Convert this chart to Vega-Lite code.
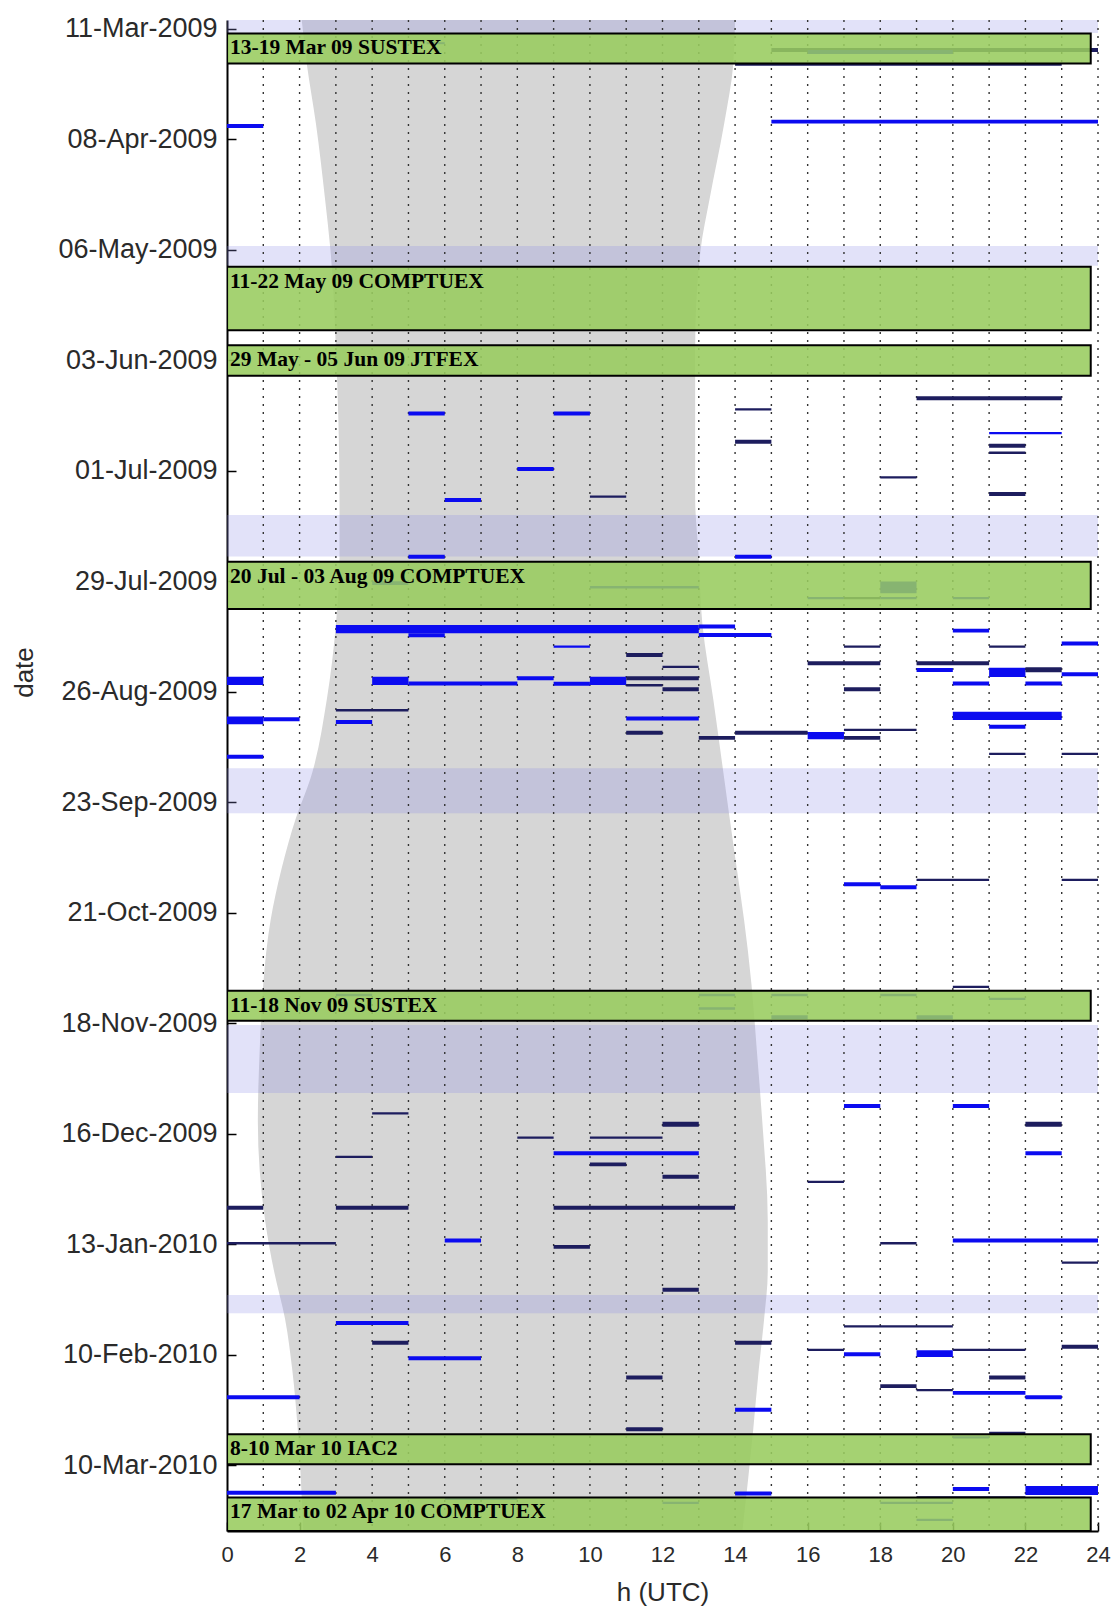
{
  "$schema": "https://vega.github.io/schema/vega-lite/v6.json",
  "width": 871,
  "height": 1511,
  "autosize": {"type": "none"},
  "padding": {"left": 227, "top": 20, "right": 15, "bottom": 77},
  "background": "white",
  "config": {
    "view": {"stroke": null},
    "axis": {
      "grid": false, "labelFlush": false, "labelOverlap": false,
      "domainColor": "#000", "domainWidth": 2,
      "tickColor": "#000", "tickWidth": 1.5, "tickSize": -9,
      "labelFont": "Liberation Sans", "labelColor": "#2a2a2a",
      "titleFont": "Liberation Sans", "titleFontSize": 26, "titleFontWeight": "normal", "titleColor": "#2a2a2a"
    },
    "axisY": {"labelFontSize": 27, "labelPadding": 19, "titleX": -195, "titleY": 652, "titleAngle": -90, "titleBaseline": "alphabetic", "titleAlign": "center"},
    "axisX": {"labelFontSize": 22, "labelPadding": 22, "tickCount": 24, "titleY": 69, "titleBaseline": "alphabetic"}
  },
  "datasets": {
    "night": [
      {"d": "2009-03-08", "h1": 2.05, "h2": 14.0},
      {"d": "2009-03-20", "h1": 2.2, "h2": 13.95},
      {"d": "2009-04-04", "h1": 2.45, "h2": 13.7},
      {"d": "2009-04-23", "h1": 2.7, "h2": 13.3},
      {"d": "2009-05-06", "h1": 2.85, "h2": 13.05},
      {"d": "2009-05-31", "h1": 3.0, "h2": 12.9},
      {"d": "2009-07-08", "h1": 3.1, "h2": 12.9},
      {"d": "2009-07-23", "h1": 3.1, "h2": 13.0},
      {"d": "2009-08-09", "h1": 3.0, "h2": 13.1},
      {"d": "2009-08-28", "h1": 2.75, "h2": 13.4},
      {"d": "2009-09-17", "h1": 2.3, "h2": 13.7},
      {"d": "2009-09-27", "h1": 1.9, "h2": 13.85},
      {"d": "2009-10-10", "h1": 1.5, "h2": 14.05},
      {"d": "2009-10-23", "h1": 1.2, "h2": 14.25},
      {"d": "2009-11-08", "h1": 1.0, "h2": 14.45},
      {"d": "2009-11-25", "h1": 0.9, "h2": 14.6},
      {"d": "2009-12-13", "h1": 0.85, "h2": 14.75},
      {"d": "2010-01-07", "h1": 1.05, "h2": 14.9},
      {"d": "2010-01-20", "h1": 1.3, "h2": 14.9},
      {"d": "2010-02-01", "h1": 1.6, "h2": 14.8},
      {"d": "2010-02-14", "h1": 1.8, "h2": 14.65},
      {"d": "2010-03-01", "h1": 1.95, "h2": 14.5},
      {"d": "2010-03-27", "h1": 2.1, "h2": 14.2}
    ],
    "bands": [
      {"s": "2009-03-08T19:00:00Z", "e": "2009-03-12T02:00:00Z"},
      {"s": "2009-05-05T02:00:00Z", "e": "2009-05-10T02:00:00Z"},
      {"s": "2009-07-12T05:00:00Z", "e": "2009-07-22T18:00:00Z"},
      {"s": "2009-09-14T10:00:00Z", "e": "2009-09-25T19:00:00Z"},
      {"s": "2009-11-18T12:00:00Z", "e": "2009-12-05T17:00:00Z"},
      {"s": "2010-01-25T22:00:00Z", "e": "2010-01-30T12:00:00Z"}
    ],
    "hours": [
      {"h": 1}, {"h": 2}, {"h": 3}, {"h": 4}, {"h": 5}, {"h": 6}, {"h": 7}, {"h": 8},
      {"h": 9}, {"h": 10}, {"h": 11}, {"h": 12}, {"h": 13}, {"h": 14}, {"h": 15}, {"h": 16},
      {"h": 17}, {"h": 18}, {"h": 19}, {"h": 20}, {"h": 21}, {"h": 22}, {"h": 23}, {"h": 24}
    ],
    "boxes": [
      {"s": "2009-03-12T05:00:00Z", "e": "2009-03-19T20:00:00Z", "label": "13-19 Mar 09 SUSTEX"},
      {"s": "2009-05-10T07:00:00Z", "e": "2009-05-26T10:00:00Z", "label": "11-22 May 09 COMPTUEX"},
      {"s": "2009-05-30T05:00:00Z", "e": "2009-06-06T22:00:00Z", "label": "29 May - 05 Jun 09 JTFEX"},
      {"s": "2009-07-24T02:00:00Z", "e": "2009-08-05T02:00:00Z", "label": "20 Jul - 03 Aug 09 COMPTUEX"},
      {"s": "2009-11-09T19:00:00Z", "e": "2009-11-17T10:00:00Z", "label": "11-18 Nov 09 SUSTEX"},
      {"s": "2010-03-02T05:00:00Z", "e": "2010-03-09T19:00:00Z", "label": "8-10 Mar 10 IAC2"},
      {"s": "2010-03-18T05:00:00Z", "e": "2010-03-26T17:00:00Z", "label": "17 Mar to 02 Apr 10 COMPTUEX"}
    ],
    "segs": [
      {"s": "2009-03-14T10:00:00Z", "e": "2009-03-14T22:00:00Z", "h1": 5.5, "h2": 6, "t": "b"},
      {"s": "2009-03-15T22:00:00Z", "e": "2009-03-16T22:00:00Z", "h1": 15, "h2": 24, "t": "d"},
      {"s": "2009-03-16T10:00:00Z", "e": "2009-03-17T10:00:00Z", "h1": 16, "h2": 20, "t": "b"},
      {"s": "2009-03-19T20:00:00Z", "e": "2009-03-20T10:00:00Z", "h1": 14, "h2": 23, "t": "d"},
      {"s": "2009-04-04T04:00:00Z", "e": "2009-04-05T04:00:00Z", "h1": 0, "h2": 1, "t": "b"},
      {"s": "2009-04-03T01:00:00Z", "e": "2009-04-04T01:00:00Z", "h1": 15, "h2": 24, "t": "b"},
      {"s": "2009-06-12T04:00:00Z", "e": "2009-06-13T04:00:00Z", "h1": 19, "h2": 23, "t": "d"},
      {"s": "2009-06-15T04:00:00Z", "e": "2009-06-15T18:00:00Z", "h1": 14, "h2": 15, "t": "d"},
      {"s": "2009-06-16T00:00:00Z", "e": "2009-06-17T00:00:00Z", "h1": 5, "h2": 6, "t": "b"},
      {"s": "2009-06-16T00:00:00Z", "e": "2009-06-17T00:00:00Z", "h1": 9, "h2": 10, "t": "b"},
      {"s": "2009-06-21T05:00:00Z", "e": "2009-06-21T19:00:00Z", "h1": 21, "h2": 23, "t": "b"},
      {"s": "2009-06-23T04:00:00Z", "e": "2009-06-24T04:00:00Z", "h1": 14, "h2": 15, "t": "d"},
      {"s": "2009-06-24T05:00:00Z", "e": "2009-06-25T05:00:00Z", "h1": 21, "h2": 22, "t": "d"},
      {"s": "2009-06-26T04:00:00Z", "e": "2009-06-26T18:00:00Z", "h1": 21, "h2": 22, "t": "d"},
      {"s": "2009-06-30T02:00:00Z", "e": "2009-07-01T02:00:00Z", "h1": 8, "h2": 9, "t": "b"},
      {"s": "2009-07-02T10:00:00Z", "e": "2009-07-03T00:00:00Z", "h1": 18, "h2": 19, "t": "d"},
      {"s": "2009-07-06T10:00:00Z", "e": "2009-07-07T10:00:00Z", "h1": 21, "h2": 22, "t": "d"},
      {"s": "2009-07-07T07:00:00Z", "e": "2009-07-07T21:00:00Z", "h1": 10, "h2": 11, "t": "d"},
      {"s": "2009-07-07T22:00:00Z", "e": "2009-07-08T22:00:00Z", "h1": 6, "h2": 7, "t": "b"},
      {"s": "2009-07-22T07:00:00Z", "e": "2009-07-23T07:00:00Z", "h1": 5, "h2": 6, "t": "b"},
      {"s": "2009-07-22T07:00:00Z", "e": "2009-07-23T07:00:00Z", "h1": 14, "h2": 15, "t": "b"},
      {"s": "2009-07-29T00:00:00Z", "e": "2009-07-30T00:00:00Z", "h1": 4, "h2": 5, "t": "b"},
      {"s": "2009-07-30T06:00:00Z", "e": "2009-07-30T20:00:00Z", "h1": 10, "h2": 13, "t": "b"},
      {"s": "2009-07-29T02:00:00Z", "e": "2009-08-01T02:00:00Z", "h1": 18, "h2": 19, "t": "b"},
      {"s": "2009-08-02T00:00:00Z", "e": "2009-08-02T14:00:00Z", "h1": 16, "h2": 17, "t": "b"},
      {"s": "2009-08-02T00:00:00Z", "e": "2009-08-02T14:00:00Z", "h1": 17, "h2": 18, "t": "d"},
      {"s": "2009-08-02T00:00:00Z", "e": "2009-08-02T14:00:00Z", "h1": 18, "h2": 19, "t": "b"},
      {"s": "2009-08-02T00:00:00Z", "e": "2009-08-02T14:00:00Z", "h1": 20, "h2": 21, "t": "b"},
      {"s": "2009-08-09T02:00:00Z", "e": "2009-08-11T05:00:00Z", "h1": 3, "h2": 13, "t": "b"},
      {"s": "2009-08-09T00:00:00Z", "e": "2009-08-10T00:00:00Z", "h1": 13, "h2": 14, "t": "b"},
      {"s": "2009-08-11T05:00:00Z", "e": "2009-08-12T05:00:00Z", "h1": 5, "h2": 6, "t": "b"},
      {"s": "2009-08-11T03:00:00Z", "e": "2009-08-12T03:00:00Z", "h1": 13, "h2": 15, "t": "b"},
      {"s": "2009-08-10T01:00:00Z", "e": "2009-08-11T01:00:00Z", "h1": 20, "h2": 21, "t": "b"},
      {"s": "2009-08-13T07:00:00Z", "e": "2009-08-14T07:00:00Z", "h1": 23, "h2": 24, "t": "b"},
      {"s": "2009-08-14T07:00:00Z", "e": "2009-08-14T21:00:00Z", "h1": 9, "h2": 10, "t": "b"},
      {"s": "2009-08-14T07:00:00Z", "e": "2009-08-14T21:00:00Z", "h1": 17, "h2": 18, "t": "d"},
      {"s": "2009-08-14T07:00:00Z", "e": "2009-08-14T21:00:00Z", "h1": 21, "h2": 22, "t": "d"},
      {"s": "2009-08-16T05:00:00Z", "e": "2009-08-17T05:00:00Z", "h1": 11, "h2": 12, "t": "d"},
      {"s": "2009-08-18T07:00:00Z", "e": "2009-08-19T07:00:00Z", "h1": 16, "h2": 18, "t": "d"},
      {"s": "2009-08-18T07:00:00Z", "e": "2009-08-19T07:00:00Z", "h1": 19, "h2": 21, "t": "d"},
      {"s": "2009-08-19T10:00:00Z", "e": "2009-08-20T00:00:00Z", "h1": 12, "h2": 13, "t": "d"},
      {"s": "2009-08-20T00:00:00Z", "e": "2009-08-21T00:00:00Z", "h1": 19, "h2": 20, "t": "b"},
      {"s": "2009-08-19T22:00:00Z", "e": "2009-08-22T07:00:00Z", "h1": 21, "h2": 22, "t": "b"},
      {"s": "2009-08-19T19:00:00Z", "e": "2009-08-21T02:00:00Z", "h1": 22, "h2": 23, "t": "d"},
      {"s": "2009-08-21T02:00:00Z", "e": "2009-08-22T02:00:00Z", "h1": 23, "h2": 24, "t": "b"},
      {"s": "2009-08-22T05:00:00Z", "e": "2009-08-24T07:00:00Z", "h1": 0, "h2": 1, "t": "b"},
      {"s": "2009-08-22T05:00:00Z", "e": "2009-08-24T07:00:00Z", "h1": 4, "h2": 5, "t": "b"},
      {"s": "2009-08-23T10:00:00Z", "e": "2009-08-24T10:00:00Z", "h1": 5, "h2": 8, "t": "b"},
      {"s": "2009-08-22T02:00:00Z", "e": "2009-08-23T02:00:00Z", "h1": 8, "h2": 9, "t": "b"},
      {"s": "2009-08-23T12:00:00Z", "e": "2009-08-24T12:00:00Z", "h1": 9, "h2": 10, "t": "b"},
      {"s": "2009-08-22T05:00:00Z", "e": "2009-08-24T07:00:00Z", "h1": 10, "h2": 11, "t": "b"},
      {"s": "2009-08-22T02:00:00Z", "e": "2009-08-23T02:00:00Z", "h1": 11, "h2": 13, "t": "d"},
      {"s": "2009-08-24T02:00:00Z", "e": "2009-08-24T16:00:00Z", "h1": 11, "h2": 12, "t": "d"},
      {"s": "2009-08-24T22:00:00Z", "e": "2009-08-25T22:00:00Z", "h1": 12, "h2": 13, "t": "d"},
      {"s": "2009-08-23T10:00:00Z", "e": "2009-08-24T10:00:00Z", "h1": 20, "h2": 21, "t": "b"},
      {"s": "2009-08-23T10:00:00Z", "e": "2009-08-24T10:00:00Z", "h1": 22, "h2": 23, "t": "b"},
      {"s": "2009-08-24T22:00:00Z", "e": "2009-08-25T22:00:00Z", "h1": 17, "h2": 18, "t": "d"},
      {"s": "2009-08-30T10:00:00Z", "e": "2009-08-31T00:00:00Z", "h1": 3, "h2": 5, "t": "d"},
      {"s": "2009-09-01T07:00:00Z", "e": "2009-09-03T07:00:00Z", "h1": 0, "h2": 1, "t": "b"},
      {"s": "2009-09-01T12:00:00Z", "e": "2009-09-02T12:00:00Z", "h1": 1, "h2": 2, "t": "b"},
      {"s": "2009-09-02T05:00:00Z", "e": "2009-09-03T05:00:00Z", "h1": 3, "h2": 4, "t": "b"},
      {"s": "2009-09-01T07:00:00Z", "e": "2009-09-02T07:00:00Z", "h1": 11, "h2": 13, "t": "b"},
      {"s": "2009-08-31T02:00:00Z", "e": "2009-09-02T05:00:00Z", "h1": 20, "h2": 23, "t": "b"},
      {"s": "2009-09-03T10:00:00Z", "e": "2009-09-04T10:00:00Z", "h1": 21, "h2": 22, "t": "b"},
      {"s": "2009-09-04T10:00:00Z", "e": "2009-09-05T00:00:00Z", "h1": 17, "h2": 19, "t": "d"},
      {"s": "2009-09-04T22:00:00Z", "e": "2009-09-05T22:00:00Z", "h1": 11, "h2": 12, "t": "d"},
      {"s": "2009-09-04T22:00:00Z", "e": "2009-09-05T22:00:00Z", "h1": 14, "h2": 16, "t": "d"},
      {"s": "2009-09-05T05:00:00Z", "e": "2009-09-07T02:00:00Z", "h1": 16, "h2": 17, "t": "b"},
      {"s": "2009-09-06T05:00:00Z", "e": "2009-09-07T05:00:00Z", "h1": 13, "h2": 14, "t": "d"},
      {"s": "2009-09-06T05:00:00Z", "e": "2009-09-07T05:00:00Z", "h1": 17, "h2": 18, "t": "d"},
      {"s": "2009-09-11T00:00:00Z", "e": "2009-09-12T00:00:00Z", "h1": 0, "h2": 1, "t": "b"},
      {"s": "2009-09-10T12:00:00Z", "e": "2009-09-11T02:00:00Z", "h1": 21, "h2": 22, "t": "d"},
      {"s": "2009-09-10T12:00:00Z", "e": "2009-09-11T02:00:00Z", "h1": 23, "h2": 24, "t": "d"},
      {"s": "2009-10-12T10:00:00Z", "e": "2009-10-13T00:00:00Z", "h1": 19, "h2": 21, "t": "d"},
      {"s": "2009-10-12T10:00:00Z", "e": "2009-10-13T00:00:00Z", "h1": 23, "h2": 24, "t": "d"},
      {"s": "2009-10-13T07:00:00Z", "e": "2009-10-14T07:00:00Z", "h1": 17, "h2": 18, "t": "b"},
      {"s": "2009-10-14T02:00:00Z", "e": "2009-10-15T02:00:00Z", "h1": 18, "h2": 19, "t": "b"},
      {"s": "2009-11-08T12:00:00Z", "e": "2009-11-09T02:00:00Z", "h1": 20, "h2": 21, "t": "d"},
      {"s": "2009-11-10T14:00:00Z", "e": "2009-11-11T04:00:00Z", "h1": 13, "h2": 14, "t": "b"},
      {"s": "2009-11-10T14:00:00Z", "e": "2009-11-11T04:00:00Z", "h1": 15, "h2": 16, "t": "b"},
      {"s": "2009-11-10T14:00:00Z", "e": "2009-11-11T04:00:00Z", "h1": 18, "h2": 19, "t": "b"},
      {"s": "2009-11-10T14:00:00Z", "e": "2009-11-11T04:00:00Z", "h1": 3, "h2": 4, "t": "b"},
      {"s": "2009-11-11T14:00:00Z", "e": "2009-11-12T04:00:00Z", "h1": 21, "h2": 22, "t": "b"},
      {"s": "2009-11-14T00:00:00Z", "e": "2009-11-14T14:00:00Z", "h1": 13, "h2": 14, "t": "b"},
      {"s": "2009-11-16T00:00:00Z", "e": "2009-11-17T00:00:00Z", "h1": 15, "h2": 16, "t": "b"},
      {"s": "2009-11-16T00:00:00Z", "e": "2009-11-17T00:00:00Z", "h1": 19, "h2": 20, "t": "b"},
      {"s": "2009-12-08T12:00:00Z", "e": "2009-12-09T12:00:00Z", "h1": 17, "h2": 18, "t": "b"},
      {"s": "2009-12-08T12:00:00Z", "e": "2009-12-09T12:00:00Z", "h1": 20, "h2": 21, "t": "b"},
      {"s": "2009-12-10T14:00:00Z", "e": "2009-12-11T04:00:00Z", "h1": 4, "h2": 5, "t": "d"},
      {"s": "2009-12-13T00:00:00Z", "e": "2009-12-14T07:00:00Z", "h1": 12, "h2": 13, "t": "d"},
      {"s": "2009-12-13T00:00:00Z", "e": "2009-12-14T07:00:00Z", "h1": 22, "h2": 23, "t": "d"},
      {"s": "2009-12-16T17:00:00Z", "e": "2009-12-17T07:00:00Z", "h1": 8, "h2": 9, "t": "d"},
      {"s": "2009-12-16T17:00:00Z", "e": "2009-12-17T07:00:00Z", "h1": 10, "h2": 12, "t": "d"},
      {"s": "2009-12-20T12:00:00Z", "e": "2009-12-21T12:00:00Z", "h1": 9, "h2": 13, "t": "b"},
      {"s": "2009-12-20T12:00:00Z", "e": "2009-12-21T12:00:00Z", "h1": 22, "h2": 23, "t": "b"},
      {"s": "2009-12-21T14:00:00Z", "e": "2009-12-22T04:00:00Z", "h1": 3, "h2": 4, "t": "d"},
      {"s": "2009-12-23T07:00:00Z", "e": "2009-12-24T07:00:00Z", "h1": 10, "h2": 11, "t": "d"},
      {"s": "2009-12-26T10:00:00Z", "e": "2009-12-27T10:00:00Z", "h1": 12, "h2": 13, "t": "d"},
      {"s": "2009-12-27T22:00:00Z", "e": "2009-12-28T12:00:00Z", "h1": 16, "h2": 17, "t": "d"},
      {"s": "2010-01-03T07:00:00Z", "e": "2010-01-04T07:00:00Z", "h1": 0, "h2": 1, "t": "d"},
      {"s": "2010-01-03T07:00:00Z", "e": "2010-01-04T07:00:00Z", "h1": 3, "h2": 5, "t": "d"},
      {"s": "2010-01-03T07:00:00Z", "e": "2010-01-04T07:00:00Z", "h1": 9, "h2": 14, "t": "d"},
      {"s": "2010-01-11T14:00:00Z", "e": "2010-01-12T14:00:00Z", "h1": 6, "h2": 7, "t": "b"},
      {"s": "2010-01-11T14:00:00Z", "e": "2010-01-12T14:00:00Z", "h1": 20, "h2": 24, "t": "b"},
      {"s": "2010-01-12T12:00:00Z", "e": "2010-01-13T02:00:00Z", "h1": 0, "h2": 3, "t": "d"},
      {"s": "2010-01-12T12:00:00Z", "e": "2010-01-13T02:00:00Z", "h1": 18, "h2": 19, "t": "d"},
      {"s": "2010-01-13T05:00:00Z", "e": "2010-01-14T05:00:00Z", "h1": 9, "h2": 10, "t": "d"},
      {"s": "2010-01-17T10:00:00Z", "e": "2010-01-18T00:00:00Z", "h1": 23, "h2": 24, "t": "d"},
      {"s": "2010-01-24T02:00:00Z", "e": "2010-01-25T02:00:00Z", "h1": 12, "h2": 13, "t": "d"},
      {"s": "2010-02-01T12:00:00Z", "e": "2010-02-02T12:00:00Z", "h1": 3, "h2": 5, "t": "b"},
      {"s": "2010-02-02T14:00:00Z", "e": "2010-02-03T04:00:00Z", "h1": 17, "h2": 20, "t": "d"},
      {"s": "2010-02-06T12:00:00Z", "e": "2010-02-07T12:00:00Z", "h1": 4, "h2": 5, "t": "d"},
      {"s": "2010-02-06T12:00:00Z", "e": "2010-02-07T12:00:00Z", "h1": 14, "h2": 15, "t": "d"},
      {"s": "2010-02-07T12:00:00Z", "e": "2010-02-08T12:00:00Z", "h1": 23, "h2": 24, "t": "d"},
      {"s": "2010-02-08T12:00:00Z", "e": "2010-02-09T02:00:00Z", "h1": 16, "h2": 17, "t": "d"},
      {"s": "2010-02-08T12:00:00Z", "e": "2010-02-09T02:00:00Z", "h1": 20, "h2": 22, "t": "d"},
      {"s": "2010-02-09T10:00:00Z", "e": "2010-02-10T10:00:00Z", "h1": 17, "h2": 18, "t": "b"},
      {"s": "2010-02-08T22:00:00Z", "e": "2010-02-10T14:00:00Z", "h1": 19, "h2": 20, "t": "b"},
      {"s": "2010-02-10T10:00:00Z", "e": "2010-02-11T10:00:00Z", "h1": 5, "h2": 7, "t": "b"},
      {"s": "2010-02-15T07:00:00Z", "e": "2010-02-16T07:00:00Z", "h1": 11, "h2": 12, "t": "d"},
      {"s": "2010-02-15T07:00:00Z", "e": "2010-02-16T07:00:00Z", "h1": 21, "h2": 22, "t": "d"},
      {"s": "2010-02-17T12:00:00Z", "e": "2010-02-18T12:00:00Z", "h1": 18, "h2": 19, "t": "d"},
      {"s": "2010-02-18T17:00:00Z", "e": "2010-02-19T07:00:00Z", "h1": 19, "h2": 20, "t": "d"},
      {"s": "2010-02-19T05:00:00Z", "e": "2010-02-20T05:00:00Z", "h1": 20, "h2": 22, "t": "b"},
      {"s": "2010-02-20T07:00:00Z", "e": "2010-02-21T07:00:00Z", "h1": 0, "h2": 2, "t": "b"},
      {"s": "2010-02-20T07:00:00Z", "e": "2010-02-21T07:00:00Z", "h1": 22, "h2": 23, "t": "b"},
      {"s": "2010-02-23T12:00:00Z", "e": "2010-02-24T12:00:00Z", "h1": 14, "h2": 15, "t": "b"},
      {"s": "2010-02-28T10:00:00Z", "e": "2010-03-01T10:00:00Z", "h1": 11, "h2": 12, "t": "d"},
      {"s": "2010-03-01T14:00:00Z", "e": "2010-03-02T04:00:00Z", "h1": 21, "h2": 22, "t": "d"},
      {"s": "2010-03-02T17:00:00Z", "e": "2010-03-03T07:00:00Z", "h1": 20, "h2": 21, "t": "b"},
      {"s": "2010-03-15T14:00:00Z", "e": "2010-03-16T14:00:00Z", "h1": 20, "h2": 21, "t": "b"},
      {"s": "2010-03-15T07:00:00Z", "e": "2010-03-17T14:00:00Z", "h1": 22, "h2": 24, "t": "b"},
      {"s": "2010-03-16T12:00:00Z", "e": "2010-03-17T12:00:00Z", "h1": 0, "h2": 3, "t": "b"},
      {"s": "2010-03-16T17:00:00Z", "e": "2010-03-17T17:00:00Z", "h1": 14, "h2": 15, "t": "b"},
      {"s": "2010-03-17T22:00:00Z", "e": "2010-03-18T12:00:00Z", "h1": 19, "h2": 22, "t": "d"},
      {"s": "2010-03-18T07:00:00Z", "e": "2010-03-18T21:00:00Z", "h1": 6, "h2": 8, "t": "b"},
      {"s": "2010-03-19T07:00:00Z", "e": "2010-03-19T21:00:00Z", "h1": 12, "h2": 13, "t": "b"},
      {"s": "2010-03-19T07:00:00Z", "e": "2010-03-19T21:00:00Z", "h1": 18, "h2": 20, "t": "b"},
      {"s": "2010-03-23T14:00:00Z", "e": "2010-03-24T04:00:00Z", "h1": 19, "h2": 20, "t": "b"}
    ]
  },
  "layer": [
    {
      "data": {"name": "night"},
      "mark": {"type": "area", "orient": "horizontal", "color": "#d6d6d6", "interpolate": "monotone", "clip": true},
      "encoding": {
        "y": {
          "field": "d", "type": "temporal", "title": "date",
          "scale": {"type": "utc", "reverse": true, "nice": false,
            "domain": [{"year": 2009, "month": 3, "date": 8, "hours": 19, "utc": true}, {"year": 2010, "month": 3, "date": 26, "hours": 17, "utc": true}]},
          "axis": {
            "values": [
              {"year": 2009, "month": 3, "date": 11, "utc": true},
              {"year": 2009, "month": 4, "date": 8, "utc": true},
              {"year": 2009, "month": 5, "date": 6, "utc": true},
              {"year": 2009, "month": 6, "date": 3, "utc": true},
              {"year": 2009, "month": 7, "date": 1, "utc": true},
              {"year": 2009, "month": 7, "date": 29, "utc": true},
              {"year": 2009, "month": 8, "date": 26, "utc": true},
              {"year": 2009, "month": 9, "date": 23, "utc": true},
              {"year": 2009, "month": 10, "date": 21, "utc": true},
              {"year": 2009, "month": 11, "date": 18, "utc": true},
              {"year": 2009, "month": 12, "date": 16, "utc": true},
              {"year": 2010, "month": 1, "date": 13, "utc": true},
              {"year": 2010, "month": 2, "date": 10, "utc": true},
              {"year": 2010, "month": 3, "date": 10, "utc": true}
            ],
            "format": "%d-%b-%Y", "labelOverlap": false, "labelFlush": false
          }
        },
        "x": {
          "field": "h1", "type": "quantitative", "title": "h (UTC)",
          "scale": {"domain": [0, 24], "nice": false, "zero": false},
          "axis": {"values": [0, 1, 2, 3, 4, 5, 6, 7, 8, 9, 10, 11, 12, 13, 14, 15, 16, 17, 18, 19, 20, 21, 22, 23, 24], "tickCount": 24, "format": "d", "labelOverlap": false, "labelFlush": false}
        },
        "x2": {"field": "h2"}
      }
    },
    {
      "data": {"name": "bands"},
      "mark": {"type": "rect", "color": "#8c8ce6", "opacity": 0.25, "clip": true},
      "encoding": {
        "y": {"field": "s", "type": "temporal", "title": "date"},
        "y2": {"field": "e"}
      }
    },
    {
      "data": {"name": "hours"},
      "mark": {"type": "rule", "color": "#333333", "strokeWidth": 1.4, "strokeDash": [2, 6]},
      "encoding": {
        "x": {"field": "h", "type": "quantitative", "title": "h (UTC)"}
      }
    },
    {
      "data": {"name": "segs"},
      "mark": {"type": "rect", "clip": true},
      "encoding": {
        "y": {"field": "s", "type": "temporal", "title": "date"},
        "y2": {"field": "e"},
        "x": {"field": "h1", "type": "quantitative", "title": "h (UTC)"},
        "x2": {"field": "h2"},
        "color": {"field": "t", "type": "nominal", "legend": null,
          "scale": {"domain": ["b", "d"], "range": ["#0b0bf0", "#1d1d5e"]}}
      }
    },
    {
      "data": {"name": "boxes"},
      "mark": {"type": "rect", "fill": "#98cc5e", "fillOpacity": 0.88, "stroke": "#000000", "strokeWidth": 2, "clip": true},
      "encoding": {
        "y": {"field": "s", "type": "temporal", "title": "date"},
        "y2": {"field": "e"},
        "x": {"datum": 0, "type": "quantitative", "title": "h (UTC)"},
        "x2": {"datum": 23.8}
      }
    },
    {
      "data": {"name": "boxes"},
      "mark": {"type": "text", "align": "left", "baseline": "alphabetic", "dx": 3, "dy": 21,
        "font": "Liberation Serif", "fontWeight": "bold", "fontSize": 21.5, "color": "#000000"},
      "encoding": {
        "y": {"field": "s", "type": "temporal", "title": "date"},
        "x": {"datum": 0, "type": "quantitative", "title": "h (UTC)"},
        "text": {"field": "label"}
      }
    }
  ]
}
